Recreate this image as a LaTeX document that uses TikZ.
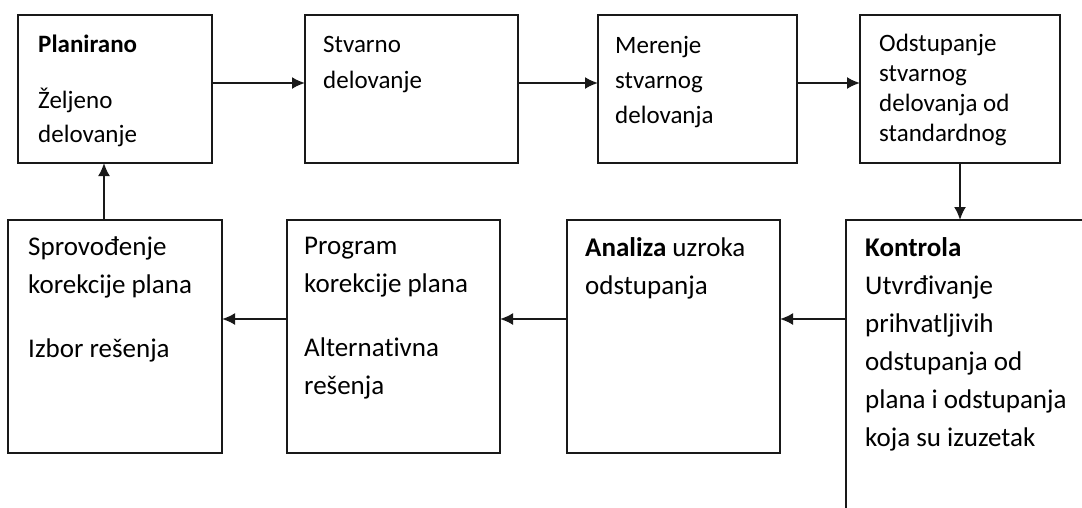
\documentclass[tikz,border=0pt]{standalone}
\usepackage{fontspec}
\setmainfont{Carlito}[Ligatures=NoCommon]
\usetikzlibrary{arrows.meta}

\begin{document}
\begin{tikzpicture}[
  x=1pt,y=-1pt,
  line cap=rect,line join=miter,
  >={Latex[length=13pt,width=12pt]}
]
  \tikzset{
    box/.style={draw=black!90, line width=1.8pt, rectangle, anchor=north west,
      inner sep=0pt, outer sep=0pt},
    flow/.style={line width=2pt, draw=black!90, ->},
    txt/.style={anchor=north west, align=left, inner sep=0pt,
      execute at begin node={\rule{0pt}{22pt}}},
    toptxt/.style={txt, font=\fontsize{25}{36}\selectfont},
    bottxt/.style={txt, font=\fontsize{27}{38}\selectfont}
  }

  \useasboundingbox (0,0) rectangle (1082,507);
  \clip (0,0) rectangle (1082,507);

  % Upper row
  \node[box, minimum width=194pt, minimum height=148pt] (plan)       at (18,15)  {};
  \node[box, minimum width=213pt, minimum height=148pt] (stvarno)    at (305,15) {};
  \node[box, minimum width=199pt, minimum height=148pt] (merenje)    at (598,15) {};
  \node[box, minimum width=200pt, minimum height=148pt] (odstupanje) at (860,15) {};

  \node[toptxt, font=\fontsize{25}{34}\selectfont] (plantxt) at (38,35)
    {\textbf{Planirano}\\[22pt]Željeno\\delovanje};
  \node[toptxt] (stvarnotxt) at (323,36) {Stvarno\\delovanje};
  \node[toptxt, font=\fontsize{25}{35}\selectfont] (merenjetxt) at (615,36)
    {Merenje\\stvarnog\\delovanja};
  \node[toptxt, font=\fontsize{25}{30}\selectfont] (odstupanjetxt) at (879,34)
    {Odstupanje\\stvarnog\\delovanja od\\standardnog};

  % Lower row
  \node[box, minimum width=214pt, minimum height=233pt] (sprovodjenje) at (8,220)   {};
  \node[box, minimum width=213pt, minimum height=233pt] (program)      at (287,220) {};
  \node[box, minimum width=213pt, minimum height=233pt] (analiza)      at (567,220) {};
  \node[box, minimum width=260pt, minimum height=300pt] (kontrola)     at (846,220) {};

  \node[bottxt] (sprovodjenjetxt) at (28,237)
    {Sprovođenje\\korekcije plana\\[26pt]Izbor rešenja};
  \node[bottxt] (programtxt) at (304,237)
    {Program\\korekcije plana\\[26pt]Alternativna\\rešenja};
  \node[bottxt] (analizatxt) at (585,237)
    {\textbf{Analiza} uzroka\\odstupanja};
  \node[bottxt] (kontrolatxt) at (865,237)
    {\textbf{Kontrola}\\Utvrđivanje\\prihvatljivih\\odstupanja od\\plana i odstupanja\\koja su izuzetak};

  % Arrow rows/column
  \coordinate (toprow) at (0,83);
  \coordinate (botrow) at (0,319);
  \coordinate (upcol)  at (104,0);

  \draw[flow] (plan.east |- toprow)    -- (stvarno.west |- toprow);
  \draw[flow] (stvarno.east |- toprow) -- (merenje.west |- toprow);
  \draw[flow] (merenje.east |- toprow) -- (odstupanje.west |- toprow);
  \draw[flow] (odstupanje.south) -- (odstupanje.south |- kontrola.north);

  \draw[flow] (kontrola.west |- botrow) -- (analiza.east |- botrow);
  \draw[flow] (analiza.west |- botrow)  -- (program.east |- botrow);
  \draw[flow] (program.west |- botrow)  -- (sprovodjenje.east |- botrow);
  \draw[flow] (sprovodjenje.north -| upcol) -- (plan.south -| upcol);
\end{tikzpicture}
\end{document}
